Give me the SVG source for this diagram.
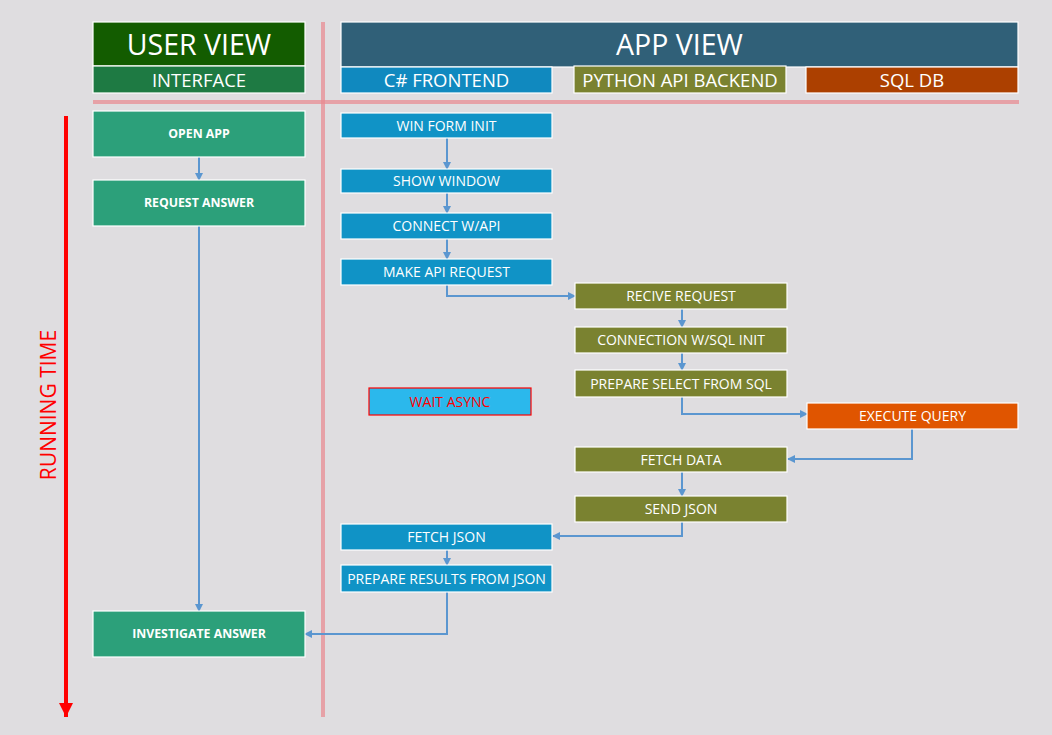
<svg xmlns="http://www.w3.org/2000/svg" width="1052" height="735" viewBox="0 0 1052 735">
<style>
.n{stroke:#ffffff;stroke-width:1.2}
.t{font-family:"Open Sans","Noto Sans",sans-serif;fill:#ffffff;text-anchor:middle;dominant-baseline:central}
.big{font-size:28.5px}
.sub{font-size:18.5px}
.reg{font-size:14px}
.bold{font-size:12.3px;font-weight:bold}
.fe{fill:#1093c6}
.be{fill:#7a8230}
.db{fill:#e05500}
.ui{fill:#2ca07a}
.c{fill:none;stroke:#5b96d0;stroke-width:2}
</style>
<defs>
<marker id="ah" markerWidth="8" markerHeight="8" refX="7" refY="4" orient="auto" markerUnits="userSpaceOnUse">
<path d="M0,0 L8,4 L0,8 Z" fill="#5b96d0"/>
</marker>
<marker id="rh" markerWidth="16" markerHeight="14" refX="14" refY="7" orient="auto" markerUnits="userSpaceOnUse">
<path d="M0,0 L14,7 L0,14 Z" fill="#ff0000"/>
</marker>
</defs>
<rect width="1052" height="735" fill="#dfdde0"/>

<g id="guides">
<line x1="323" y1="22" x2="323" y2="717" stroke="#e8888e" stroke-opacity="0.7" stroke-width="4"/>
<line x1="93" y1="102" x2="1019" y2="102" stroke="#e8888e" stroke-opacity="0.7" stroke-width="4"/>
</g>

<g id="header-user">
<rect x="93" y="22" width="212" height="44" fill="#135c00" class="n"/>
<text x="199" y="44" class="t big">USER VIEW</text>
</g>
<g id="header-interface">
<rect x="93" y="66" width="212" height="27" fill="#1e7a43" class="n"/>
<text x="199" y="79.5" class="t sub">INTERFACE</text>
</g>
<g id="header-app">
<rect x="341" y="22" width="677" height="45" fill="#306078" class="n"/>
<text x="679.5" y="44" class="t big">APP VIEW</text>
</g>
<g id="header-frontend">
<rect x="341" y="67" width="211" height="26" fill="#1089bf" class="n"/>
<text x="446.5" y="79.5" class="t sub">C# FRONTEND</text>
</g>
<g id="header-backend">
<rect x="574" y="66" width="212" height="27" fill="#7a8230" class="n"/>
<text x="680" y="79.5" class="t sub">PYTHON API BACKEND</text>
</g>
<g id="header-db">
<rect x="806" y="67" width="212" height="26" fill="#ac4000" class="n"/>
<text x="912" y="79.5" class="t sub">SQL DB</text>
</g>

<g id="time">
<line x1="66" y1="116" x2="66" y2="717" stroke="#ff0000" stroke-width="4" marker-end="url(#rh)"/>
<text transform="translate(48,405) rotate(-90)" font-family="'Open Sans','Noto Sans',sans-serif" font-size="21" fill="#ff0000" text-anchor="middle" dominant-baseline="central">RUNNING TIME</text>
</g>

<g id="connectors">
<line x1="199" y1="157" x2="199" y2="180" class="c" marker-end="url(#ah)"/>
<line x1="199" y1="226" x2="199" y2="611" class="c" marker-end="url(#ah)"/>
<line x1="447" y1="138" x2="447" y2="169" class="c" marker-end="url(#ah)"/>
<line x1="447" y1="193" x2="447" y2="213" class="c" marker-end="url(#ah)"/>
<line x1="447" y1="239" x2="447" y2="259" class="c" marker-end="url(#ah)"/>
<polyline points="447,285 447,296 575,296" class="c" marker-end="url(#ah)"/>
<line x1="682" y1="309" x2="682" y2="327" class="c" marker-end="url(#ah)"/>
<line x1="682" y1="353" x2="682" y2="370" class="c" marker-end="url(#ah)"/>
<polyline points="682,397 682,414 807,414" class="c" marker-end="url(#ah)"/>
<polyline points="912,429 912,459 788,459" class="c" marker-end="url(#ah)"/>
<line x1="682" y1="472" x2="682" y2="496" class="c" marker-end="url(#ah)"/>
<polyline points="682,522 682,536 553,536" class="c" marker-end="url(#ah)"/>
<line x1="447" y1="550" x2="447" y2="565" class="c" marker-end="url(#ah)"/>
<polyline points="447,592 447,634 305,634" class="c" marker-end="url(#ah)"/>
</g>

<g id="open-app">
<rect x="93" y="111" width="212" height="46" class="n ui"/>
<text x="199" y="133" class="t bold">OPEN APP</text>
</g>
<g id="request-answer">
<rect x="93" y="180" width="212" height="46" class="n ui"/>
<text x="199" y="202" class="t bold">REQUEST ANSWER</text>
</g>
<g id="investigate-answer">
<rect x="93" y="611" width="212" height="46" class="n ui"/>
<text x="199" y="633" class="t bold">INVESTIGATE ANSWER</text>
</g>

<g id="win-form-init">
<rect x="341" y="113" width="211" height="25" class="n fe"/>
<text x="446.5" y="125" class="t reg">WIN FORM INIT</text>
</g>
<g id="show-window">
<rect x="341" y="169" width="211" height="24" class="n fe"/>
<text x="446.5" y="180.5" class="t reg">SHOW WINDOW</text>
</g>
<g id="connect-api">
<rect x="341" y="213" width="211" height="26" class="n fe"/>
<text x="446.5" y="225.5" class="t reg">CONNECT W/API</text>
</g>
<g id="make-api-request">
<rect x="341" y="259" width="211" height="26" class="n fe"/>
<text x="446.5" y="271.5" class="t reg">MAKE API REQUEST</text>
</g>
<g id="wait-async">
<rect x="369" y="388" width="162" height="27" fill="#2bb8ec" stroke="#ff0000" stroke-width="1.2"/>
<text x="450" y="401" class="t reg" style="fill:#ff0000">WAIT ASYNC</text>
</g>
<g id="fetch-json">
<rect x="341" y="524" width="211" height="26" class="n fe"/>
<text x="446.5" y="536.5" class="t reg">FETCH JSON</text>
</g>
<g id="prepare-results">
<rect x="341" y="565" width="211" height="27" class="n fe"/>
<text x="446.5" y="578" class="t reg">PREPARE RESULTS FROM JSON</text>
</g>

<g id="recive-request">
<rect x="575" y="283" width="212" height="26" class="n be"/>
<text x="681" y="295.5" class="t reg">RECIVE REQUEST</text>
</g>
<g id="connection-sql-init">
<rect x="575" y="327" width="212" height="26" class="n be"/>
<text x="681" y="339.5" class="t reg">CONNECTION W/SQL INIT</text>
</g>
<g id="prepare-select">
<rect x="575" y="370" width="212" height="27" class="n be"/>
<text x="681" y="383" class="t reg">PREPARE SELECT FROM SQL</text>
</g>
<g id="fetch-data">
<rect x="575" y="447" width="212" height="25" class="n be"/>
<text x="681" y="459" class="t reg">FETCH DATA</text>
</g>
<g id="send-json">
<rect x="575" y="496" width="212" height="26" class="n be"/>
<text x="681" y="508.5" class="t reg">SEND JSON</text>
</g>

<g id="execute-query">
<rect x="807" y="403" width="211" height="26" class="n db"/>
<text x="912.5" y="415.5" class="t reg">EXECUTE QUERY</text>
</g>
</svg>
